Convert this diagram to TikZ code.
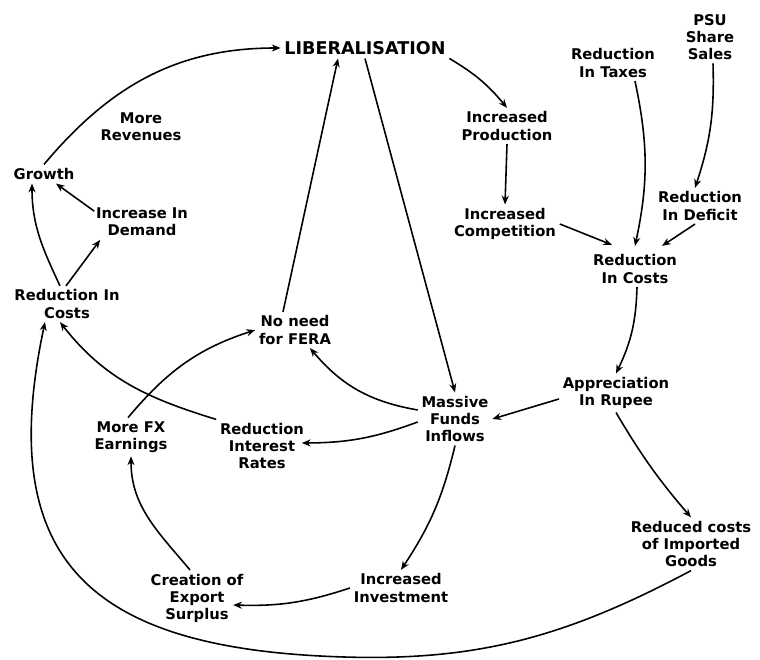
\documentclass[tikz,border=0pt]{standalone}
\usepackage{fontspec}
\setsansfont{DejaVu Sans}
\usetikzlibrary{calc}
\usetikzlibrary{arrows.meta}

\begin{document}
\begin{tikzpicture}[x=0.02cm,y=0.02cm,
        lbl/.style={font=\fontsize{8.4}{9.7}\selectfont\sffamily\bfseries,align=center,inner sep=2pt},
        link/.style={line width=0.9pt,-{Stealth[length=5pt,width=4pt]}}]
        \useasboundingbox (0,0) rectangle (760,659);

        % Top of the loop
        \node[lbl,font=\fontsize{10}{12}\selectfont\sffamily\bfseries] (lib) at (365,611) {LIBERALISATION};
        \node[lbl] (rev) at (141,532) {More\\Revenues};
        \node[lbl] (growth) at (44,485) {Growth};
        \node[lbl] (demand) at (142,437) {Increase In\\Demand};
        \node[lbl] (costsL) at (67,355) {Reduction In\\Costs};
        \node[lbl] (fera) at (295,329) {No need\\for FERA};

        % Right hand side
        \node[lbl] (prod) at (507,533) {Increased\\Production};
        \node[lbl] (comp) at (505,435) {Increased\\Competition};
        \node[lbl] (taxes) at (613,596) {Reduction\\In Taxes};
        \node[lbl] (psu) at (710,622) {PSU\\Share\\Sales};
        \node[lbl] (deficit) at (700,453) {Reduction\\In Deficit};
        \node[lbl] (costsR) at (635,390) {Reduction\\In Costs};
        \node[lbl] (rupee) at (616,266) {Appreciation\\In Rupee};
        \node[lbl] (goods) at (691,115) {Reduced costs\\of Imported\\Goods};

        % Lower half
        \node[lbl] (funds) at (455,240) {Massive\\Funds\\Inflows};
        \node[lbl] (rates) at (262,213) {Reduction\\Interest\\Rates};
        \node[lbl] (fx) at (131,222) {More FX\\Earnings};
        \node[lbl] (surplus) at (197,61) {Creation of\\Export\\Surplus};
        \node[lbl] (invest) at (401,71) {Increased\\Investment};
        \coordinate (bot) at (320,3);

        \draw[link] (growth.north) to[out=50,in=180] (lib.west);
        \draw[link] (lib.south east) to[bend left=10] (prod.north);
        \draw[link] (prod.south) -- (comp.north);
        \draw[link] (comp.east) -- ($(costsR.north)+(-23,6)$);
        \draw[link] ($(taxes.south)+(22,0)$) to[bend left=12] ($(costsR.north)+(0,5)$);
        \draw[link] ($(psu.south)+(3,0)$) to[bend left=10] ($(deficit.north)+(-5,0)$);
        \draw[link] ($(deficit.south)+(-5,0)$) -- ($(costsR.north)+(27,5)$);
        \draw[link] ($(costsR.south)+(2,0)$) to[bend left=12] (rupee.north);
        \draw[link] ($(rupee.west)+(0,-6)$) -- (funds.east);
        \draw[link] (rupee.south) to[bend right=5] (goods.north);

        % Big loop back to the costs
        \draw[line width=0.9pt] (goods.south) to[out=208,in=-3] (bot);
        \draw[link] (bot) to[out=177,in=258,looseness=1.4] ($(costsL.south)+(-22,0)$);

        \draw[link] (lib.south) -- (funds.north);
        \draw[link] ($(fera.north)+(-12,0)$) -- ($(lib.south)+(-27,0)$);
        \draw[link] ($(funds.west)+(0,9)$) to[bend left=20] ($(fera.south)+(15,0)$);
        \draw[link] ($(funds.west)+(0,-3)$) to[bend left=10] ($(rates.east)+(-6,3)$);
        \draw[link] (funds.south) to[bend left=10] (invest.north);
        \draw[link] (invest.west) to[bend left=10] ($(surplus.east)+(-14,-7)$);
        \draw[link] ($(surplus.north)+(-7,0)$) to[out=130,in=-90] (fx.south);
        \draw[link] ($(fx.north)+(-3,0)$) to[out=50,in=198] (fera.west);
        \draw[link] (rates.north west) to[out=163,in=-52] ($(costsL.south)+(-7,0)$);
        \draw[link] ($(costsL.north)+(-7,0)$) to[out=115,in=-90] ($(growth.south)+(-12,0)$);
        \draw[link] ($(costsL.north)+(-1,0)$) -- ($(demand.south west)+(8,0)$);
        \draw[link] ($(demand.north west)+(2,-7)$) -- ($(growth.south)+(12,0)$);
\end{tikzpicture}
\end{document}
